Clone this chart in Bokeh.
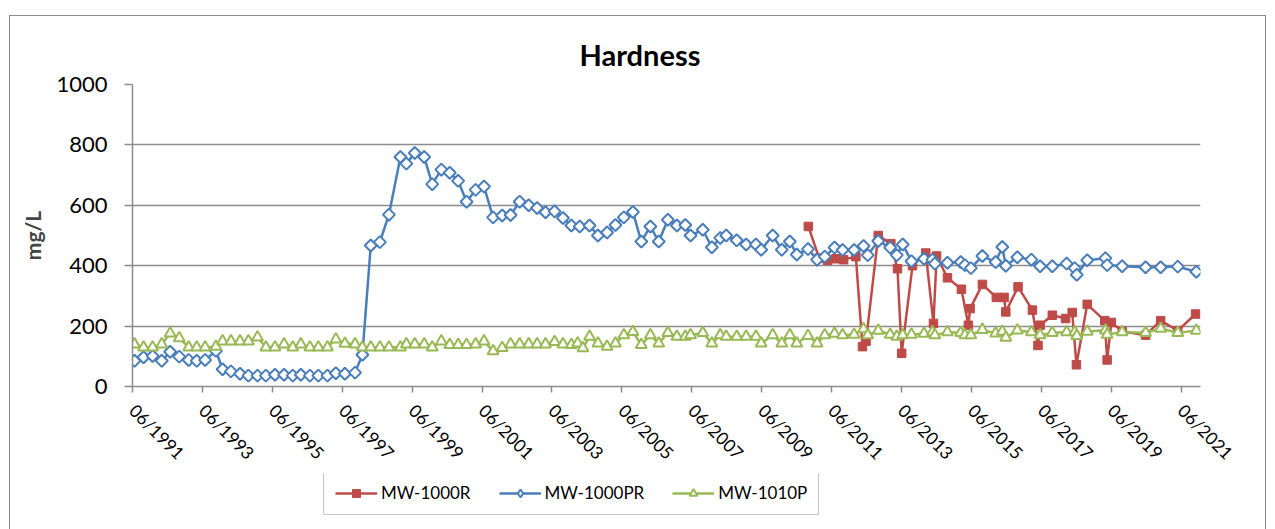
import datetime as dt
import numpy as np
from bokeh.plotting import figure
from bokeh.layouts import column
from bokeh.models import (FixedTicker, DatetimeTickFormatter, Range1d, Legend, LegendItem)
from bokeh.embed import file_html
from bokeh.resources import INLINE

# ---------------- data (decimal years, mg/L) ----------------
r_years = [2010.75, 2011.06, 2011.30, 2011.54, 2011.76, 2012.11, 2012.30, 2012.40, 2012.75, 2013.11,
           2013.30, 2013.42, 2013.73, 2014.11, 2014.33, 2014.42, 2014.73, 2015.13, 2015.33, 2015.38,
           2015.73, 2016.13, 2016.35, 2016.40, 2016.75, 2017.16, 2017.32, 2017.38, 2017.73, 2018.11,
           2018.30, 2018.42, 2018.73, 2019.23, 2019.30, 2019.42, 2019.73, 2020.40, 2020.83, 2021.32,
           2021.83]
r_vals = [530, 425, 418, 423, 420, 430, 132, 150, 500, 473,
          390, 110, 400, 442, 209, 432, 360, 322, 203, 258,
          338, 295, 295, 247, 330, 253, 136, 203, 236, 225,
          245, 72, 272, 218, 88, 212, 183, 170, 218, 185,
          240]

b_years = [1991.47, 1991.73, 1991.99, 1992.25, 1992.49, 1992.75, 1993.02, 1993.25, 1993.49, 1993.80,
           1993.99, 1994.23, 1994.49, 1994.73, 1994.99, 1995.23, 1995.49, 1995.75, 1996.00, 1996.23,
           1996.49, 1996.73, 1996.99, 1997.23, 1997.49, 1997.78, 1997.99, 1998.23, 1998.49, 1998.75,
           1999.08, 1999.25, 1999.49, 1999.76, 1999.99, 2000.25, 2000.49, 2000.73, 2000.97, 2001.23,
           2001.47, 2001.73, 2001.99, 2002.23, 2002.49, 2002.75, 2002.99, 2003.23, 2003.49, 2003.73,
           2003.97, 2004.21, 2004.49, 2004.73, 2004.99, 2005.23, 2005.47, 2005.73, 2005.97, 2006.23,
           2006.47, 2006.73, 2006.99, 2007.23, 2007.38, 2007.73, 2007.99, 2008.23, 2008.40, 2008.70,
           2008.97, 2009.25, 2009.40, 2009.73, 2009.99, 2010.22, 2010.42, 2010.74, 2011.00, 2011.22,
           2011.50, 2011.73, 2012.06, 2012.33, 2012.45, 2012.75, 2013.09, 2013.28, 2013.45, 2013.70,
           2014.06, 2014.30, 2014.37, 2014.73, 2015.11, 2015.23, 2015.40, 2015.73, 2016.11, 2016.30,
           2016.40, 2016.73, 2017.13, 2017.38, 2017.73, 2018.14, 2018.37, 2018.43, 2018.73, 2019.25,
           2019.30, 2019.73, 2020.40, 2020.83, 2021.32, 2021.85]
b_vals = [85, 97, 101, 85, 115, 99, 88, 85, 88, 118,
          57, 50, 42, 36, 36, 36, 39, 39, 36, 39,
          36, 36, 36, 44, 42, 46, 105, 467, 478, 569,
          760, 738, 773, 760, 670, 718, 708, 681, 612, 651,
          662, 560, 566, 568, 612, 600, 591, 577, 580, 558,
          533, 530, 533, 500, 510, 535, 560, 578, 480, 530,
          480, 552, 533, 535, 500, 519, 461, 492, 500, 484,
          470, 470, 453, 500, 453, 480, 437, 455, 420, 430,
          460, 452, 452, 465, 435, 482, 460, 435, 470, 415,
          423, 420, 407, 410, 412, 402, 392, 432, 412, 462,
          400, 428, 420, 398, 398, 407, 392, 370, 418, 425,
          402, 398, 395, 395, 397, 380]

g_years = [1991.47, 1991.73, 1991.99, 1992.25, 1992.49, 1992.75, 1993.02, 1993.25, 1993.49, 1993.80,
           1993.99, 1994.23, 1994.49, 1994.73, 1994.99, 1995.23, 1995.49, 1995.75, 1996.00, 1996.23,
           1996.49, 1996.73, 1996.99, 1997.23, 1997.49, 1997.78, 1997.99, 1998.23, 1998.49, 1998.75,
           1999.08, 1999.25, 1999.49, 1999.76, 1999.99, 2000.25, 2000.49, 2000.73, 2000.97, 2001.23,
           2001.47, 2001.73, 2001.99, 2002.23, 2002.49, 2002.75, 2002.99, 2003.23, 2003.49, 2003.73,
           2003.97, 2004.15, 2004.30, 2004.49, 2004.73, 2004.99, 2005.23, 2005.47, 2005.73, 2005.97,
           2006.23, 2006.47, 2006.73, 2006.99, 2007.23, 2007.38, 2007.73, 2007.99, 2008.23, 2008.40,
           2008.70, 2008.97, 2009.25, 2009.40, 2009.73, 2009.99, 2010.22, 2010.42, 2010.74, 2011.00,
           2011.22, 2011.50, 2011.73, 2012.06, 2012.33, 2012.45, 2012.75, 2013.09, 2013.28, 2013.45,
           2013.70, 2014.06, 2014.30, 2014.37, 2014.73, 2015.11, 2015.23, 2015.40, 2015.73, 2016.11,
           2016.30, 2016.40, 2016.73, 2017.13, 2017.38, 2017.73, 2018.14, 2018.37, 2018.43, 2018.73,
           2019.25, 2019.30, 2019.73, 2020.40, 2020.83, 2021.32, 2021.85]
g_vals = [140, 130, 130, 140, 176, 160, 130, 130, 130, 132,
          150, 150, 150, 150, 163, 130, 130, 140, 130, 140,
          130, 130, 130, 156, 142, 140, 130, 130, 130, 130,
          130, 140, 140, 140, 130, 150, 138, 138, 138, 140,
          150, 117, 128, 140, 140, 140, 140, 140, 148, 140,
          138, 143, 127, 165, 143, 132, 143, 170, 181, 138,
          170, 143, 178, 165, 165, 170, 178, 143, 170, 165,
          165, 165, 165, 143, 170, 143, 170, 143, 168, 143,
          170, 175, 170, 172, 190, 170, 185, 172, 165, 170,
          172, 175, 180, 170, 180, 178, 170, 170, 188, 176,
          182, 162, 186, 180, 170, 178, 180, 180, 168, 182,
          186, 172, 180, 178, 192, 178, 185]

series_names = ["MW-1000R", "MW-1000PR", "MW-1010P"]
y_ticks = [0, 200, 400, 600, 800, 1000]
x_tick_years = list(range(1991, 2022, 2))   # labelled 06/YYYY

RED, BLUE, GREEN = "#BE4B48", "#4A7EBB", "#98B954"
GRID = "#8c8c8c"
BORDER = "1.5px solid #8c8c8c"


def to_dt(y):
    yr = int(y)
    a, b = dt.datetime(yr, 1, 1), dt.datetime(yr + 1, 1, 1)
    return a + (b - a) * (y - yr)


EPOCH = dt.datetime(1970, 1, 1)


def ms(d):
    return (d - EPOCH).total_seconds() * 1000.0


rx = [to_dt(v) for v in r_years]
bx = [to_dt(v) for v in b_years]
gx = [to_dt(v) for v in g_years]

x_start = dt.datetime(1991, 6, 1)
x_end = to_dt(2021.97)

p = figure(width=1257, height=458, x_axis_type="datetime",
           x_range=Range1d(x_start, x_end), y_range=Range1d(0, 1000),
           output_backend="svg", toolbar_location=None,
           min_border_left=122, min_border_right=67, min_border_top=68, min_border_bottom=86)
p.margin = (15, 0, 0, 9)
p.styles = {"border-top": BORDER, "border-left": BORDER, "border-right": BORDER}
p.outline_line_color = None
p.background_fill_color = "white"
p.border_fill_color = "white"

# title
p.title.text = "Hardness"
p.title.align = "left"
p.title.offset = 447
p.title.text_font = "Lato"
p.title.text_font_style = "bold"
p.title.text_font_size = "29px"
p.title.text_color = "black"
p.title.standoff = 25

# grid
p.xgrid.grid_line_color = None
p.ygrid.grid_line_color = GRID
p.ygrid.grid_line_width = 1.5

# y axis
p.yaxis.ticker = FixedTicker(ticks=y_ticks)
p.yaxis.axis_label = "mg/L"
p.yaxis.axis_label_text_font = "Lato"
p.yaxis.axis_label_text_font_style = "bold"
p.yaxis.axis_label_text_font_size = "21px"
p.yaxis.axis_label_standoff = 8
p.yaxis.major_label_text_font = "Lato"
p.yaxis.major_label_text_font_size = "22px"
p.yaxis.major_label_text_color = "black"
p.yaxis.major_tick_out = 8
p.yaxis.major_tick_in = 0
p.yaxis.minor_tick_line_color = None
p.yaxis.major_label_standoff = 17
p.yaxis.axis_line_color = GRID
p.yaxis.axis_line_width = 1.5
p.yaxis.major_tick_line_color = GRID
p.yaxis.major_tick_line_width = 1.5

# x axis
p.xaxis.ticker = FixedTicker(ticks=[ms(dt.datetime(y, 6, 1)) for y in x_tick_years])
fmt = "%m/%Y"
p.xaxis.formatter = DatetimeTickFormatter(milliseconds=fmt, seconds=fmt, minsec=fmt, minutes=fmt,
                                          hourmin=fmt, hours=fmt, days=fmt, months=fmt, years=fmt)
p.xaxis.major_label_orientation = -np.pi / 4
p.xaxis.major_label_text_font = "Lato"
p.xaxis.major_label_text_font_size = "17.5px"
p.xaxis.major_label_text_color = "black"
p.xaxis.major_tick_out = 6
p.xaxis.major_tick_in = 0
p.xaxis.minor_tick_line_color = None
p.xaxis.major_label_standoff = 15
p.xaxis.axis_line_color = GRID
p.xaxis.axis_line_width = 1.5
p.xaxis.major_tick_line_color = GRID
p.xaxis.major_tick_line_width = 1.5

# series
p.line(rx, r_vals, line_color=RED, line_width=2.5)
p.scatter(rx, r_vals, marker="square", size=8.5, fill_color=RED, line_color=RED, line_width=1)
p.line(bx, b_vals, line_color=BLUE, line_width=2.5)
p.scatter(bx, b_vals, marker="square", angle=np.pi / 4, size=8.5, fill_color="white",
          line_color=BLUE, line_width=2)
p.line(gx, g_vals, line_color=GREEN, line_width=2.5)
p.scatter(gx, g_vals, marker="triangle", size=11, fill_color="white",
          line_color=GREEN, line_width=2)

# ---------------- legend strip (below the chart) ----------------
p2 = figure(width=1257, height=56, x_range=Range1d(0, 1), y_range=Range1d(0, 1),
            output_backend="svg", toolbar_location=None,
            min_border_left=0, min_border_right=0, min_border_top=0, min_border_bottom=0)
p2.margin = (0, 0, 0, 9)
p2.styles = {"border-left": BORDER, "border-right": BORDER}
p2.axis.visible = False
p2.grid.visible = False
p2.outline_line_color = None
p2.background_fill_color = "white"
p2.border_fill_color = "white"

# legend-only renderers (their single point lies outside the strip's range)
off = [-5]
lr = p2.line(off, off, line_color=RED, line_width=2.5)
ls = p2.scatter(off, off, marker="square", size=8.5, fill_color=RED, line_color=RED)
lbr = p2.line(off, off, line_color=BLUE, line_width=2.5)
lbs = p2.scatter(off, off, marker="diamond", size=14, fill_color="white",
                 line_color=BLUE, line_width=2)
lg = p2.line(off, off, line_color=GREEN, line_width=2.5)
lgs = p2.scatter(off, off, marker="triangle", size=11, fill_color="white",
                 line_color=GREEN, line_width=2)

legend = Legend(items=[LegendItem(label=series_names[0], renderers=[lr, ls]),
                       LegendItem(label=series_names[1], renderers=[lbr, lbs]),
                       LegendItem(label=series_names[2], renderers=[lg, lgs])],
                location=(191, 14), orientation="horizontal")
legend.border_line_color = GRID
legend.border_line_width = 1.5
legend.background_fill_color = "white"
legend.background_fill_alpha = 1
legend.padding = 11
legend.spacing = 28
legend.margin = 0
legend.glyph_width = 42
legend.glyph_height = 20
legend.label_standoff = 4
legend.label_width = 20
legend.label_text_font = "Lato"
legend.label_text_font_size = "17px"
legend.label_text_color = "black"
p2.add_layout(legend)

layout = column(p, p2, spacing=0)
open("out.html", "w").write(file_html(layout, INLINE))
